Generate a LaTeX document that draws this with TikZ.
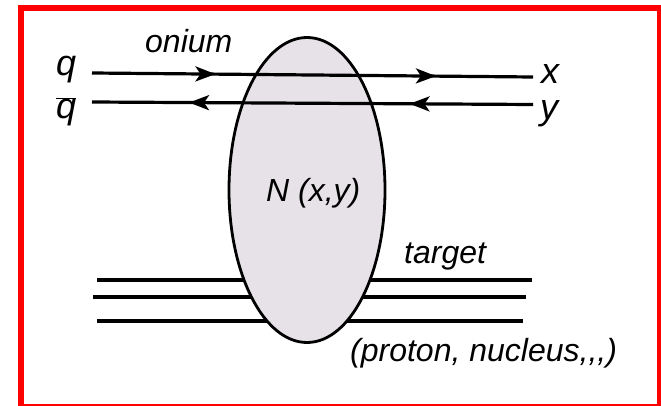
\documentclass[tikz,border=0pt]{standalone}
\usepackage{fontspec}
\setmainfont{Liberation Sans}
\usepackage{xcolor}
\usepackage{tikz}
\usetikzlibrary{arrows.meta,shapes.geometric,decorations.markings}
\definecolor{blobgray}{RGB}{230,226,231}

\begin{document}
\begin{tikzpicture}[
  x=1pt, y=-1pt,
  txt/.style={font=\fontsize{32}{38}\selectfont\itshape, inner sep=0pt, anchor=base west},
  lbl/.style={font=\fontsize{36}{42}\selectfont\itshape, inner sep=0pt, anchor=base west},
  blob/.style={draw, ellipse, line width=2.8pt, fill=blobgray, minimum width=156pt, minimum height=305pt, inner sep=0pt},
  line/.style={line width=3.2pt},
  quark/.style={line, postaction={decorate}, decoration={markings,
      mark=at position 0.28 with {\arrow{Stealth[length=20pt,width=15pt,inset=5pt]}},
      mark=at position 0.78 with {\arrow{Stealth[length=20pt,width=15pt,inset=5pt]}}}},
  frame/.style={draw=red, line width=6pt}
]
  \useasboundingbox (0,0) rectangle (661,406);
  \draw[frame] (21,8) rectangle (660,406.5);

  % target lines, partly hidden behind the blob
  \foreach \i/\xa/\xb/\yy in {1/97/532/280, 2/93/526/297, 3/97/523/321} {
    \coordinate (t\i w) at (\xa,\yy);
    \coordinate (t\i e) at (\xb,\yy);
    \draw[line] (t\i w) -- (t\i e);
  }

  \node[blob] at (307,190) (blob) {};
  \node[txt] at (266,202) (amp) {N (x,y)};

  % onium: quark and antiquark
  \coordinate (q in) at (92,73);
  \coordinate (q out) at (533,77);
  \coordinate (qb in) at (533,104.5);
  \coordinate (qb out) at (92,102);
  \draw[quark] (q in) -- (q out);
  \draw[quark] (qb in) -- (qb out);

  \node[txt] at (145,53) (onium) {onium};
  \node[lbl] at (56,76) (q) {q};
  \node[lbl] at (56,119) (qbar) {$\overline{\mbox{q}}$};
  \node[lbl] at (541,84) (x) {x};
  \node[lbl] at (540,120) (y) {y};
  \node[txt] at (404,263) (target) {target};
  \node[txt] at (350,361) (nucl) {(proton, nucleus,{},{},)};
\end{tikzpicture}
\end{document}
